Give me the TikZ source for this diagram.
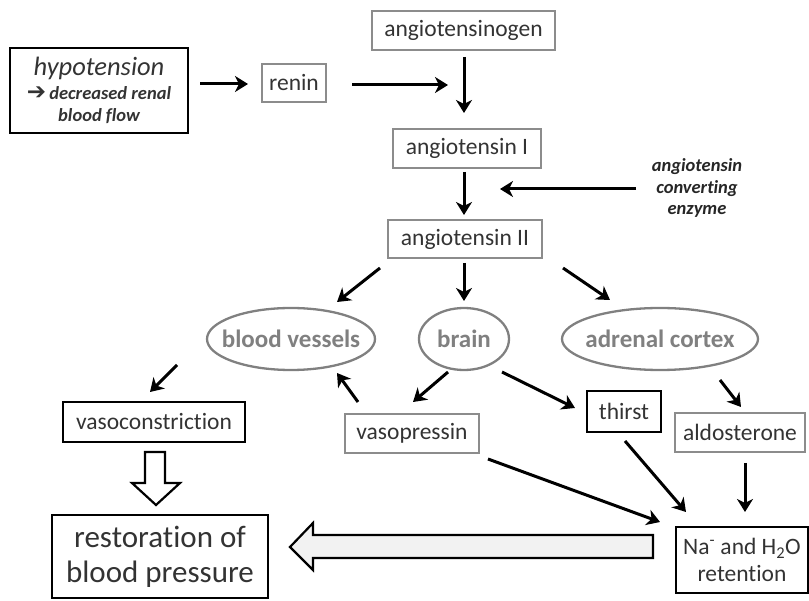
\documentclass[tikz,border=0pt]{standalone}
\usepackage{fontspec}
\setmainfont[Ligatures=NoCommon]{Carlito}
\newfontfamily\djv{DejaVu Sans}
\usetikzlibrary{arrows.meta}
\definecolor{txt}{HTML}{333333}
\definecolor{thinb}{HTML}{8C8C8C}
\definecolor{ell}{HTML}{808080}
\definecolor{arrfill}{HTML}{F2F2F2}
\begin{document}
\begin{tikzpicture}[x=1pt,y=-1pt,
  thinbox/.style={draw=thinb,line width=1.4pt,inner sep=0pt,text=txt,font=\fontsize{23.5}{27}\selectfont},
  thickbox/.style={draw=black,line width=2.6pt,inner sep=0pt,text=txt,font=\fontsize{23.5}{27}\selectfont},
  organ/.style={inner sep=0pt,text=ell,font=\fontsize{25}{30}\selectfont\bfseries},
  organline/.style={draw=ell,line width=2.3pt},
  arr/.style={line width=3pt,-{Stealth[length=13pt,width=16pt,inset=4pt]}},
  bigarrow/.style={line width=2.2pt,draw=black,line join=miter},
]
\useasboundingbox (0,0) rectangle (809,601);

% boxes
\node[thickbox,minimum width=178,minimum height=85,align=center,font=\fontsize{18.5}{22}\selectfont] (hyp) at (99,90.5)
  {{\fontsize{26.5}{26}\selectfont\itshape hypotension}\\[2pt]{\bfseries\itshape{\djv\bfseries\fontsize{23}{17}\selectfont ➔}\,decreased renal}\\{\bfseries\itshape blood flow}};
\node[thinbox,minimum width=64,minimum height=38] (renin) at (294,83) {renin};
\node[thinbox,minimum width=183,minimum height=39] (ang) at (463.5,30.5) {angiotensinogen};
\node[thinbox,minimum width=148,minimum height=39] (angI) at (467,148.5) {angiotensin I};
\node[thinbox,minimum width=154,minimum height=38] (angII) at (465,239) {angiotensin II};
\node[inner sep=0pt,align=center,text=black!85,font=\fontsize{18.5}{21.5}\selectfont\bfseries\itshape] (ace) at (697,188)
  {angiotensin\\converting\\enzyme};

% organs
\node[organ] (bv) at (291,339) {blood vessels};
\draw[organline] (bv) ellipse [x radius=84, y radius=31];
\node[organ] (brain) at (464,339) {brain};
\draw[organline] (brain) ellipse [x radius=45, y radius=31];
\node[organ] (adr) at (660,339) {adrenal cortex};
\draw[organline] (adr) ellipse [x radius=98, y radius=31];

\node[thickbox,minimum width=182,minimum height=40] (vc) at (154,422) {vasoconstriction};
\node[thinbox,minimum width=134,minimum height=39] (vp) at (412,433.5) {vasopressin};
\node[thickbox,minimum width=74,minimum height=41] (th) at (624,411.5) {thirst};
\node[thinbox,minimum width=130,minimum height=39] (ald) at (740,432.5) {aldosterone};
\node[thickbox,minimum width=132,minimum height=66,align=center] (na) at (742,560)
  {Na\textsuperscript{-} and H\textsubscript{2}O\\retention};
\node[thickbox,minimum width=216,minimum height=83,align=center,font=\fontsize{31}{35}\selectfont] (rest) at (160,556.5)
  {restoration of\\blood pressure};

% free ends
\coordinate (j1) at (448,85);
\coordinate (j2) at (500,189);

% connectors
\draw[arr] ([shift={(101,-6.5)}]hyp.center) -- ([shift={(-46,1)}]renin.center);
\draw[arr] ([shift={(58,2)}]renin.center) -- (j1);
\draw[arr] ([shift={(0.5,26.5)}]ang.center) -- ([shift={(-3,-35.5)}]angI.center);
\draw[arr] ([shift={(-3,23.5)}]angI.center) -- ([shift={(-1,-24)}]angII.center);
\draw[arr] ([shift={(-61,1)}]ace.center) -- (j2);
\draw[arr] ([shift={(-85,29)}]angII.center) -- ([shift={(46,-37)}]bv.center);
\draw[arr] ([shift={(-1,24)}]angII.center) -- ([shift={(0,-38)}]brain.center);
\draw[arr] ([shift={(98,29)}]angII.center) -- ([shift={(-50,-39)}]adr.center);
\draw[arr] ([shift={(-114,26)}]bv.center) -- ([shift={(-4,-30)}]vc.center);
\draw[arr] ([shift={(-54,-31.5)}]vp.center) -- ([shift={(46,34)}]bv.center);
\draw[arr] ([shift={(-16,33)}]brain.center) -- ([shift={(1,-31.5)}]vp.center);
\draw[arr] ([shift={(38,33)}]brain.center) -- ([shift={(-49,-3.5)}]th.center);
\draw[arr] ([shift={(60,41)}]adr.center) -- ([shift={(1,-25.5)}]ald.center);
\draw[arr] ([shift={(76,25.5)}]vp.center) -- ([shift={(-82,-38)}]na.center);
\draw[arr] ([shift={(1,29.5)}]th.center) -- ([shift={(-56,-48)}]na.center);
\draw[arr] ([shift={(5,30.5)}]ald.center) -- ([shift={(3,-48)}]na.center);

% hollow block arrows
\draw[bigarrow,fill=white] (145,452) -- (165,452) -- (165,483) -- (180,483) -- (156,505) -- (132,483) -- (145,483) -- cycle;
\draw[bigarrow,fill=arrfill] (653,535) -- (653,558) -- (313,558) -- (313,570) -- (290,547) -- (313,523) -- (313,535) -- cycle;
\end{tikzpicture}
\end{document}
